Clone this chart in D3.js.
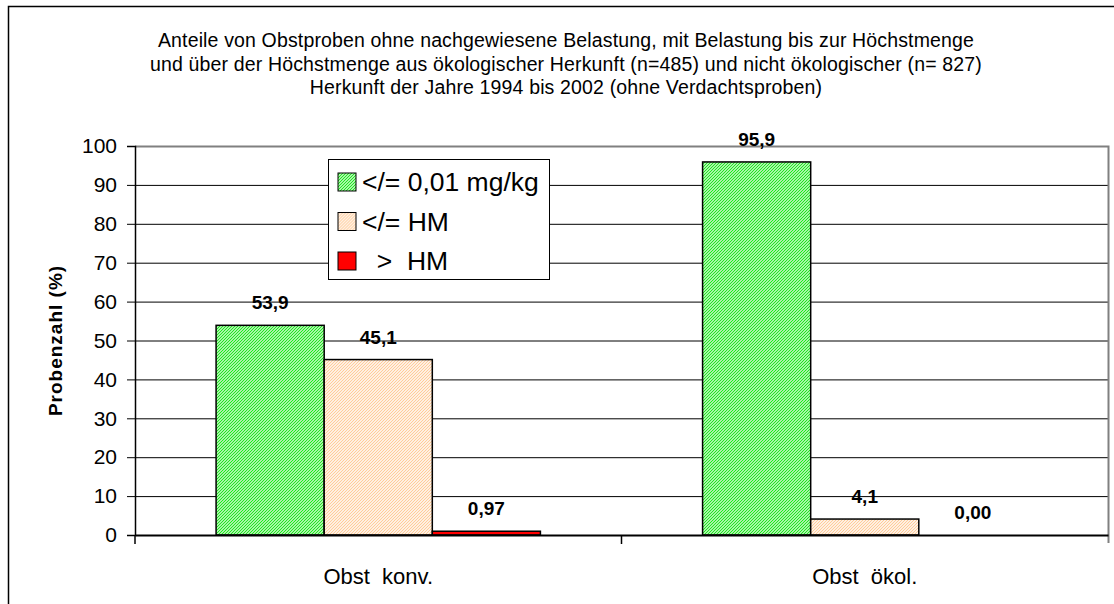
<!DOCTYPE html>
<html lang="de">
<head>
<meta charset="utf-8" />
<title>Obstproben</title>
<script src="https://d3js.org/d3.v7.min.js"></script>
<style>
  body { margin: 0; background: #fff; }
  text { font-family: "Liberation Sans", Arial, sans-serif; fill: #000; }
</style>
</head>
<body>
<div id="chart"></div>
<script>
// chart data
var categories = ["Obst  konv.", "Obst  ökol."];
var seriesNames = ["</= 0,01 mg/kg", "</= HM", "  >  HM"];
var valuesGreen = [53.9, 95.9];
var valuesPeach = [45.1, 4.1];
var valuesRed = [0.97, 0.00];
var valueLabels = [["53,9", "95,9"], ["45,1", "4,1"], ["0,97", "0,00"]];
var yTicks = [0, 10, 20, 30, 40, 50, 60, 70, 80, 90, 100];
var titleLines = [
  "Anteile von Obstproben ohne nachgewiesene Belastung, mit Belastung bis zur Höchstmenge",
  "und über der Höchstmenge aus ökologischer Herkunft (n=485) und nicht ökologischer (n= 827)",
  "Herkunft der Jahre 1994 bis 2002 (ohne Verdachtsproben)"
];

var series = [valuesGreen, valuesPeach, valuesRed];
var fills = ["url(#hatchGreen)", "url(#hatchPeach)", "#ff0000"];

var width = 1114, height = 604;
// plot area edges (note: "top" is a reserved window property, so use plotTop)
var plotLeft = 135, plotRight = 1108, plotTop = 146, plotBottom = 535;

var svg = d3.select("#chart").append("svg")
    .attr("width", width)
    .attr("height", height);

// fine dither like the old office fills: light base with darker dots
var defs = svg.append("defs");
function hatch(id, base, dot) {
  var p = defs.append("pattern")
      .attr("id", id)
      .attr("patternUnits", "userSpaceOnUse")
      .attr("width", 3)
      .attr("height", 3);
  p.append("rect").attr("width", 3).attr("height", 3).attr("fill", base);
  p.append("path")
      .attr("d", "M0,2h1v1h-1z M1,1h1v1h-1z M2,0h1v1h-1z")
      .attr("fill", dot);
}
hatch("hatchGreen", "#a8f5a8", "#1ee61e");
hatch("hatchPeach", "#fff0e2", "#ffcc99");

// outer chart border
svg.append("rect")
    .attr("x", 8.5).attr("y", 6.5)
    .attr("width", 1200).attr("height", 700)
    .attr("fill", "none")
    .attr("stroke", "#000")
    .attr("stroke-width", 1.5);

// title
svg.append("g").selectAll("text")
    .data(titleLines)
    .enter().append("text")
    .attr("x", 566)
    .attr("y", function(d, i) { return 47 + i * 23.5; })
    .attr("text-anchor", "middle")
    .style("font-size", "19.5px")
    .style("letter-spacing", "0.15px")
    .text(function(d) { return d; });

// scales
var yScale = d3.scaleLinear().domain([0, 100]).range([plotBottom, plotTop]);
var xScale = d3.scaleBand().domain(categories).range([plotLeft, plotRight]).paddingInner(0).paddingOuter(0);
var inner = d3.scaleBand().domain(d3.range(series.length))
    .range([0, xScale.bandwidth()])
    .paddingInner(0)
    .paddingOuter(0.75);

// gridlines
svg.append("g").selectAll("line")
    .data(yTicks.filter(function(d) { return d > 0 && d < 100; }))
    .enter().append("line")
    .attr("x1", plotLeft).attr("x2", plotRight)
    .attr("y1", function(d) { return yScale(d) + 0.5; })
    .attr("y2", function(d) { return yScale(d) + 0.5; })
    .attr("stroke", "#000")
    .attr("stroke-width", 1);

// plot area border (grey)
svg.append("path")
    .attr("d", "M" + plotLeft + "," + (plotTop + 0.5) + "H" + (plotRight + 0.5) + "V" + (plotBottom + 8))
    .attr("fill", "none")
    .attr("stroke", "#808080")
    .attr("stroke-width", 2);

// bars
series.forEach(function(vals, s) {
  svg.append("g").selectAll("rect")
      .data(vals)
      .enter().append("rect")
      .attr("x", function(d, i) { return xScale(categories[i]) + inner(s); })
      .attr("y", function(d) { return yScale(d); })
      .attr("width", inner.bandwidth())
      .attr("height", function(d) { return plotBottom - yScale(d); })
      .attr("fill", fills[s])
      .attr("stroke", "#000")
      .attr("stroke-width", 1.5);

  svg.append("g").selectAll("text")
      .data(vals)
      .enter().append("text")
      .attr("x", function(d, i) { return xScale(categories[i]) + inner(s) + inner.bandwidth() / 2; })
      .attr("y", function(d) { return yScale(d) - 16; })
      .attr("text-anchor", "middle")
      .style("font-size", "19px")
      .style("font-weight", "bold")
      .text(function(d, i) { return valueLabels[s][i]; });
});

// y axis
var yAxis = d3.axisLeft(yScale).tickValues(yTicks).tickSize(8).tickPadding(10);
var yG = svg.append("g")
    .attr("transform", "translate(" + plotLeft + ",0)")
    .call(yAxis);
yG.select(".domain").attr("stroke", "#000").attr("stroke-width", 1.5);
yG.selectAll(".tick line").attr("stroke", "#000");
yG.selectAll(".tick text")
    .style("font-family", "'Liberation Sans', Arial, sans-serif")
    .style("font-size", "21px")
    .attr("fill", "#000");

// x axis
var xAxis = d3.axisBottom(xScale).tickSize(0).tickPadding(33);
var xG = svg.append("g")
    .attr("transform", "translate(0," + plotBottom + ")")
    .call(xAxis);
xG.select(".domain").attr("stroke", "#000").attr("stroke-width", 2);
xG.selectAll(".tick text")
    .style("font-family", "'Liberation Sans', Arial, sans-serif")
    .style("font-size", "22px")
    .style("white-space", "pre")
    .attr("xml:space", "preserve")
    .attr("fill", "#000");

// category separator ticks
svg.append("g").selectAll("line")
    .data(categories)
    .enter().append("line")
    .attr("x1", function(d) { return xScale(d); })
    .attr("x2", function(d) { return xScale(d); })
    .attr("y1", plotBottom)
    .attr("y2", plotBottom + 9)
    .attr("stroke", "#000")
    .attr("stroke-width", 1.5);

// y axis title
svg.append("text")
    .attr("transform", "translate(62," + ((plotTop + plotBottom) / 2) + ") rotate(-90)")
    .attr("text-anchor", "middle")
    .style("font-size", "19px")
    .style("letter-spacing", "1px")
    .style("font-weight", "bold")
    .text("Probenzahl (%)");

// legend
var legend = svg.append("g").attr("transform", "translate(328,159)");
legend.append("rect")
    .attr("x", 0.5).attr("y", 0.5)
    .attr("width", 221).attr("height", 120)
    .attr("fill", "#fff")
    .attr("stroke", "#000")
    .attr("stroke-width", 1);
var item = legend.selectAll("g.item")
    .data(seriesNames)
    .enter().append("g")
    .attr("class", "item")
    .attr("transform", function(d, i) { return "translate(0," + (23 + i * 39.5) + ")"; });
item.append("rect")
    .attr("x", 10).attr("y", -9)
    .attr("width", 18).attr("height", 18)
    .attr("fill", function(d, i) { return fills[i]; })
    .attr("stroke", "#000")
    .attr("stroke-width", 1);
item.append("text")
    .attr("x", 34)
    .attr("y", 9)
    .style("font-size", "26.5px")
    .style("white-space", "pre")
    .attr("xml:space", "preserve")
    .text(function(d) { return d; });
</script>
</body>
</html>
